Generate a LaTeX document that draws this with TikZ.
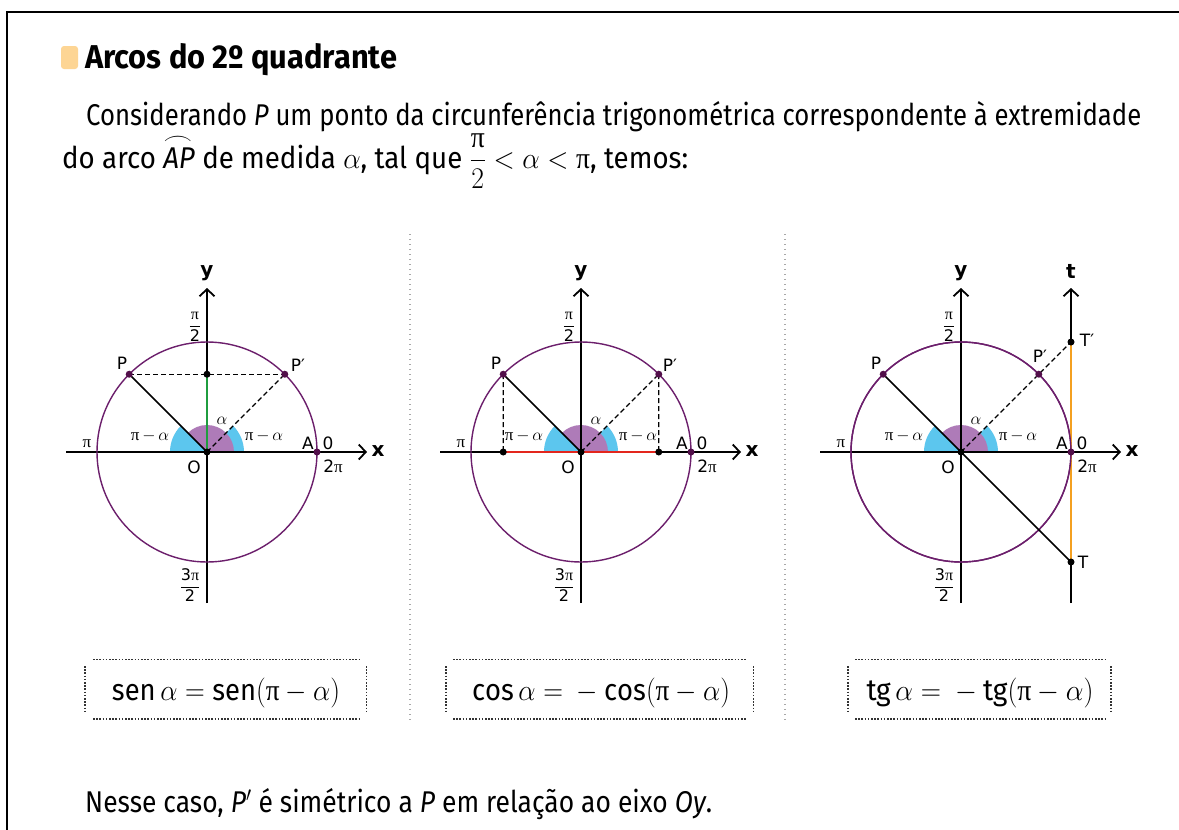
\RequirePackage{fix-cm}
\documentclass[tikz,border=0pt]{standalone}
\usepackage{amsmath}
\usepackage{fontspec}
\usepackage{graphicx}
\usetikzlibrary{arrows.meta}
\setmainfont{Fira Sans}
\newfontfamily\lblfont{DejaVu Sans}
\newfontfamily\pifont{Liberation Serif}
\newcommand\upi{\mathord{\text{\pifont π}}}
\newcommand\fitw[2]{\resizebox{#1}{\height}{#2}}
\definecolor{cyanc}{HTML}{5CC6EE}
\definecolor{purc}{HTML}{AE7BB8}
\definecolor{circc}{HTML}{6C1F6C}
\definecolor{dotp}{HTML}{520F4A}
\definecolor{greenc}{HTML}{1F9D3F}
\definecolor{redc}{HTML}{E3261D}
\definecolor{orangec}{HTML}{F4A020}
\definecolor{markc}{HTML}{FDD594}
\definecolor{sepc}{HTML}{A8A8A8}
\definecolor{boxc}{HTML}{333333}
\tikzset{
  lbl/.style={font=\lblfont\fontsize{17}{20}\selectfont, inner sep=0pt},
  axl/.style={font=\lblfont\bfseries\fontsize{20}{23}\selectfont, inner sep=0pt},
  sm/.style={font=\fontsize{17}{20}\selectfont, inner sep=0pt},
  fr/.style={font=\lblfont\fontsize{16}{18}\selectfont, inner sep=0pt},
  axisline/.style={line width=1.8pt, -{Straight Barb[length=7pt,width=15pt]}},
  circline/.style={draw=circc, line width=1.4pt},
  dsh/.style={line width=1.3pt, dash pattern=on 5pt off 3pt},
  rad/.style={line width=1.6pt},
  pdot/.style={circle, fill=dotp, minimum size=7pt, inner sep=0pt},
  bdot/.style={circle, fill=black, minimum size=7pt, inner sep=0pt},
  bodytext/.style={anchor=base west, inner sep=0pt, font=\fontsize{30}{36}\selectfont},
  eqtext/.style={anchor=base, inner sep=0pt, font=\fontsize{30}{36}\selectfont},
  boxside/.style={draw=boxc, line width=1.6pt, dash pattern=on 1.6pt off 1.6pt},
  sepline/.style={draw=sepc, line width=1.3pt, dash pattern=on 1.4pt off 3.6pt},
  titlemark/.style={fill=markc, rounded corners=3pt, minimum width=17pt, minimum height=23pt, inner sep=0pt}
}
\newcommand\trigbase[1]{%
  \coordinate (#1O) at (0,0);
  \coordinate (#1P) at (135:110);
  \coordinate (#1Q) at (45:110);
  \coordinate (#1A) at (110,0);
  \coordinate (#1xs) at (-141,0);
  \coordinate (#1xe) at (160,0);
  \coordinate (#1ys) at (0,-151);
  \coordinate (#1ye) at (0,164);
  \fill[cyanc] (0,0) -- (0:37) arc[start angle=0, end angle=45, radius=37] -- cycle;
  \fill[cyanc] (0,0) -- (135:37) arc[start angle=135, end angle=180, radius=37] -- cycle;
  \fill[purc] (0,0) -- (0:27) arc[start angle=0, end angle=135, radius=27] -- cycle;
  \draw[axisline] (#1xs) -- (#1xe);
  \draw[axisline] (#1ys) -- (#1ye);
  \draw[circline] (#1O) circle[radius=110];
}
\newcommand\trigdots[1]{%
  \node[pdot] (#1dP) at (#1P) {};
  \node[pdot] (#1dQ) at (#1Q) {};
  \node[pdot] (#1dA) at (#1A) {};
  \node[bdot] (#1dO) at (#1O) {};
}
\newcommand\triglabels[1]{%
  \node[axl] (#1ly) at (0,179) {y};
  \node[axl] (#1lx) at (171,1) {x};
  \node[lbl] (#1lP) at (-85,89) {P};
  \node[lbl] (#1lA) at (101,9) {A};
  \node[lbl] (#1lzero) at (121,9) {0};
  \node[lbl] (#1ltwopi) at (126,-14) {2{\pifont π}};
  \node[lbl] (#1lO) at (-13,-15) {O};
  \node[sm] (#1lpi) at (-120,8) {$\upi$};
  \node[sm] (#1lal) at (15,31) {$\alpha$};
  \node[sm] (#1lpl) at (-57,16) {$\upi\,{-}\,\alpha$};
  \node[sm] (#1lpr) at (57,16) {$\upi\,{-}\,\alpha$};
  \node[fr] (#1lhalf) at (-12,125) {$\dfrac{\upi}{\text{2}}$};
  \node[fr] (#1lthree) at (-17,-133) {$\dfrac{\text{3}\upi}{\text{2}}$};
}
\begin{document}
\begin{tikzpicture}[x=1pt,y=-1pt]
\useasboundingbox (0,0) rectangle (1179,830);
\fill[white] (0,0) rectangle (1179,830);
% frame
\draw[line width=2pt] (7,832) -- (7,12) -- (1181,12);

% title
\node[titlemark] (mark) at (69.5,57.5) {};
\node[anchor=base west, inner sep=0pt] (title) at (85,68)
  {\fitw{312pt}{\fontsize{33}{38}\selectfont\bfseries Arcos do 2º quadrante}};

% paragraph
\node[bodytext] (line1) at (86,125)
  {\fitw{1055pt}{Considerando \textit{P} um ponto da circunferência trigonométrica correspondente à extremidade}};
\node[bodytext] (line2) at (62,168)
  {\fitw{626pt}{do arco \makebox[0pt][l]{\raisebox{0.78em}{\resizebox{1.05em}{0.26em}{$\frown$}}}\textit{AP} de medida $\alpha$, tal que $\dfrac{\upi}{2}<\alpha<\upi$, temos:}};

% separators
\coordinate (s1t) at (410,234); \coordinate (s1b) at (410,723);
\coordinate (s2t) at (785,234); \coordinate (s2b) at (785,723);
\draw[sepline] (s1t) -- (s1b);
\draw[sepline] (s2t) -- (s2b);

% ---------- diagram 1 ----------
\begin{scope}[shift={(207,452)}, yscale=-1]
  \trigbase{a}
  \coordinate (aS) at (0,77.78);
  \draw[dsh] (aP) -- (aQ);
  \draw[dsh] (aO) -- (aQ);
  \draw[rad] (aO) -- (aP);
  \draw[draw=greenc, line width=2pt] (aO) -- (aS);
  \node[bdot] (adS) at (aS) {};
  \trigdots{a}
  \triglabels{a}
  \node[lbl] (alQ) at (91,87) {P′};
\end{scope}

% ---------- diagram 2 ----------
\begin{scope}[shift={(581,452)}, yscale=-1]
  \trigbase{b}
  \coordinate (bPx) at (-77.78,0);
  \coordinate (bQx) at (77.78,0);
  \draw[dsh] (bP) -- (bPx);
  \draw[dsh] (bQ) -- (bQx);
  \draw[dsh] (bO) -- (bQ);
  \draw[rad] (bO) -- (bP);
  \draw[draw=redc, line width=2pt] (bPx) -- (bQx);
  \node[bdot] (bdPx) at (bPx) {};
  \node[bdot] (bdQx) at (bQx) {};
  \trigdots{b}
  \triglabels{b}
  \node[lbl] (blQ) at (89,87) {P′};
\end{scope}

% ---------- diagram 3 ----------
\begin{scope}[shift={(961,452)}, yscale=-1]
  \trigbase{c}
  \coordinate (cT1) at (110,110);
  \coordinate (cT) at (110,-110);
  \coordinate (cts) at (110,-151);
  \coordinate (cte) at (110,164);
  \draw[axisline] (cts) -- (cte);
  \draw[draw=orangec, line width=2pt] (cT) -- (cT1);
  \draw[circline] (cO) circle[radius=110];
  \draw[rad] (cP) -- (cT);
  \draw[dsh] (cO) -- (cT1);
  \node[bdot] (cdT1) at (cT1) {};
  \node[bdot] (cdT) at (cT) {};
  \trigdots{c}
  \triglabels{c}
  \node[lbl] (clQ) at (79,96) {P′};
  \node[axl] (clt) at (110,181) {t};
  \node[lbl] (clT1) at (126,112) {T′};
  \node[lbl] (clT) at (122,-110) {T};
\end{scope}

% ---------- formula boxes ----------
\node[eqtext] (eq1) at (226,700) {\fitw{228pt}{$\text{sen}\,\alpha=\text{sen}(\upi-\alpha)$}};
\node[eqtext] (eq2) at (601,700) {\fitw{258pt}{$\cos\alpha = {}-\cos(\upi-\alpha)$}};
\node[eqtext] (eq3) at (980,700) {\fitw{227pt}{$\text{tg}\,\alpha = {}-\text{tg}(\upi-\alpha)$}};

\draw[boxside] (93,659.5) -- (360,659.5);
\draw[boxside] (93,719) -- (360,719);
\draw[boxside] (85,666) -- (85,712);
\draw[boxside] (366.5,666) -- (366.5,712);

\draw[boxside] (453,659.5) -- (747,659.5);
\draw[boxside] (453,719) -- (747,719);
\draw[boxside] (446,666) -- (446,712);
\draw[boxside] (753.5,666) -- (753.5,712);

\draw[boxside] (855,659.5) -- (1105,659.5);
\draw[boxside] (855,719) -- (1105,719);
\draw[boxside] (848,666) -- (848,712);
\draw[boxside] (1111,666) -- (1111,712);

% closing sentence
\node[bodytext] (line3) at (85,812)
  {\fitw{627pt}{Nesse caso, \textit{P}$'$ é simétrico a \textit{P} em relação ao eixo \textit{Oy}.}};
\end{tikzpicture}
\end{document}
